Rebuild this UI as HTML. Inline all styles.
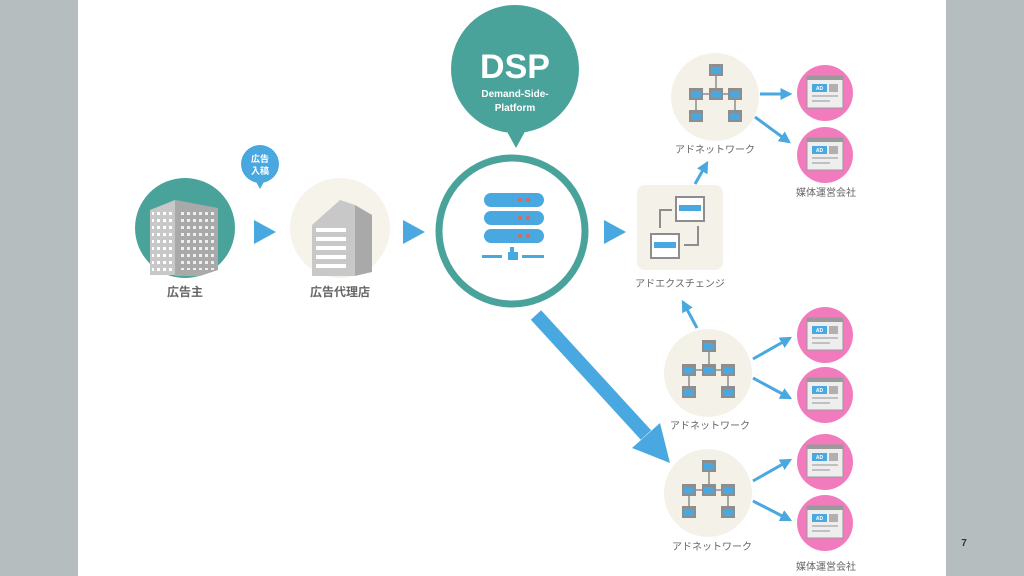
<!DOCTYPE html>
<html><head><meta charset="utf-8"><style>
html,body{margin:0;padding:0;width:1024px;height:576px;overflow:hidden;background:#b5bdbf}
svg{display:block}
text{font-family:"Liberation Sans","Noto Sans CJK JP",sans-serif}
</style></head><body>
<svg width="1024" height="576" viewBox="0 0 1024 576" xmlns="http://www.w3.org/2000/svg">
<defs>
 <g id="net">
  <circle r="44" fill="#f4f2e8"/>
  <g fill="#8d8d8d">
   <rect x="-6" y="-33" width="14" height="12"/><rect x="-6" y="-9" width="14" height="12"/>
   <rect x="-26" y="-9" width="14" height="12"/><rect x="13" y="-9" width="14" height="12"/>
   <rect x="-26" y="13" width="14" height="12"/><rect x="13" y="13" width="14" height="12"/>
  </g>
  <g fill="#4aa8e0">
   <rect x="-4" y="-30" width="10" height="7"/><rect x="-4" y="-6" width="10" height="7"/>
   <rect x="-24" y="-6" width="10" height="7"/><rect x="15" y="-6" width="10" height="7"/>
   <rect x="-24" y="16" width="10" height="7"/><rect x="15" y="16" width="10" height="7"/>
  </g>
  <g stroke="#8d8d8d" stroke-width="1.5">
   <line x1="1" y1="-21" x2="1" y2="-9"/><line x1="-12" y1="-3" x2="-6" y2="-3"/><line x1="8" y1="-3" x2="13" y2="-3"/>
   <line x1="-19" y1="3" x2="-19" y2="13"/><line x1="20" y1="3" x2="20" y2="13"/>
  </g>
 </g>
 <g id="pub">
  <circle r="28" fill="#f27bbd"/>
  <rect x="-18" y="-17" width="36" height="32" fill="#eeeeee" stroke="#9a9a9a" stroke-width="1"/>
  <rect x="-18" y="-17" width="36" height="4" fill="#9a9a9a"/>
  <rect x="-13" y="-9" width="15" height="8" fill="#4aa8e0"/>
  <text x="-5.5" y="-3" font-size="5" fill="#fff" text-anchor="middle" font-weight="bold">AD</text>
  <rect x="4" y="-9" width="9" height="8" fill="#b0b0b0"/>
  <rect x="-13" y="2" width="26" height="2" fill="#c0c0c0"/>
  <rect x="-13" y="7" width="18" height="2" fill="#c0c0c0"/>
 </g>
 <pattern id="win" width="6" height="7" patternUnits="userSpaceOnUse"><rect width="6" height="7" fill="none"/><rect x="1" y="2" width="3" height="3" fill="#fff"/></pattern>
 <pattern id="win2" width="8" height="9" patternUnits="userSpaceOnUse"><rect x="0" y="3" width="8" height="4" fill="#fff"/></pattern>
 <marker id="ah" viewBox="0 0 10 10" refX="8" refY="5" markerWidth="4" markerHeight="4" orient="auto"><path d="M0,0L10,5L0,10z" fill="#4aa8e0"/></marker>
</defs>
<rect x="78" y="0" width="868" height="576" fill="#fff"/>

<!-- advertiser -->
<circle cx="185" cy="228" r="50" fill="#4aa39a"/>
<path d="M150,210 L175,200 L200,205 L200,275 L150,275 Z" fill="#c8c8c8"/>
<path d="M175,200 L218,208 L218,270 L200,276 L175,276Z" fill="#a9a9a9"/>
<rect x="152" y="212" width="22" height="60" fill="url(#win)"/>
<rect x="178" y="212" width="38" height="58" fill="url(#win)" opacity="0.8"/>
<text x="185" y="296" font-size="12" font-weight="bold" fill="#666" text-anchor="middle">広告主</text>
<!-- bubble -->
<circle cx="260" cy="164" r="19" fill="#4aa8e0"/>
<path d="M255,180 L265,180 L260,189Z" fill="#4aa8e0"/>
<text x="260" y="162" font-size="9" font-weight="bold" fill="#fff" text-anchor="middle">広告</text>
<text x="260" y="174" font-size="9" font-weight="bold" fill="#fff" text-anchor="middle">入稿</text>
<!-- tri arrows -->
<path d="M254,220 L276,232 L254,244Z" fill="#4aa8e0"/>
<path d="M403,220 L425,232 L403,244Z" fill="#4aa8e0"/>
<path d="M604,220 L626,232 L604,244Z" fill="#4aa8e0"/>
<!-- agency -->
<circle cx="340" cy="228" r="50" fill="#f5f3ea"/>
<path d="M312,225 L340,200 L355,205 L355,276 L312,276Z" fill="#c8c8c8"/>
<path d="M355,205 L372,215 L372,272 L355,276Z" fill="#a9a9a9"/>
<rect x="316" y="228" width="30" height="44" fill="url(#win2)"/>
<text x="340" y="296" font-size="12" font-weight="bold" fill="#666" text-anchor="middle">広告代理店</text>
<!-- DSP -->
<circle cx="512" cy="231" r="73" fill="#fff" stroke="#4aa39a" stroke-width="7"/>
<g fill="#4aa8e0">
 <rect x="484" y="193" width="60" height="14" rx="7"/><rect x="484" y="211" width="60" height="14" rx="7"/><rect x="484" y="229" width="60" height="14" rx="7"/>
 <rect x="510" y="247" width="4" height="8"/><rect x="508" y="252" width="10" height="8"/>
 <rect x="482" y="255" width="20" height="3"/><rect x="522" y="255" width="22" height="3"/>
</g>
<g fill="#e8654d"><circle cx="520" cy="200" r="2"/><circle cx="528" cy="200" r="2"/><circle cx="520" cy="218" r="2"/><circle cx="528" cy="218" r="2"/><circle cx="520" cy="236" r="2"/><circle cx="528" cy="236" r="2"/></g>
<circle cx="515" cy="69" r="64" fill="#4aa39a"/>
<path d="M505,128 L527,128 L516,148Z" fill="#4aa39a"/>
<text x="515" y="78" font-size="34" font-weight="bold" fill="#fff" text-anchor="middle">DSP</text>
<text x="515" y="97" font-size="10" font-weight="bold" fill="#fff" text-anchor="middle">Demand-Side-</text>
<text x="515" y="111" font-size="10" font-weight="bold" fill="#fff" text-anchor="middle">Platform</text>
<!-- big arrow -->
<line x1="536" y1="315" x2="646" y2="435" stroke="#4aa8e0" stroke-width="14"/>
<path d="M632,448 L670,463 L660,423Z" fill="#4aa8e0"/>
<!-- ad exchange -->
<rect x="637" y="185" width="86" height="85" rx="8" fill="#f4f2e8"/>
<rect x="676" y="197" width="28" height="24" fill="#fff" stroke="#8d8d8d" stroke-width="2"/><rect x="679" y="205" width="22" height="6" fill="#4aa8e0"/>
<rect x="651" y="234" width="28" height="24" fill="#fff" stroke="#8d8d8d" stroke-width="2"/><rect x="654" y="242" width="22" height="6" fill="#4aa8e0"/>
<path d="M660,228 L660,210 L672,210" fill="none" stroke="#8d8d8d" stroke-width="2"/>
<path d="M698,226 L698,245 L684,245" fill="none" stroke="#8d8d8d" stroke-width="2"/>
<text x="680" y="287" font-size="10" fill="#666" text-anchor="middle">アドエクスチェンジ</text>
<!-- networks -->
<use href="#net" x="715" y="97"/>
<text x="715" y="153" font-size="10" fill="#666" text-anchor="middle">アドネットワーク</text>
<use href="#net" x="708" y="373"/>
<text x="710" y="429" font-size="10" fill="#666" text-anchor="middle">アドネットワーク</text>
<use href="#net" x="708" y="493"/>
<text x="712" y="550" font-size="10" fill="#666" text-anchor="middle">アドネットワーク</text>
<!-- small arrows -->
<g stroke="#4aa8e0" stroke-width="3" marker-end="url(#ah)">
 <line x1="695" y1="184" x2="707" y2="163"/>
 <line x1="697" y1="328" x2="683" y2="302"/>
 <line x1="760" y1="94" x2="790" y2="94"/>
 <line x1="755" y1="117" x2="789" y2="142"/>
 <line x1="753" y1="359" x2="790" y2="338"/>
 <line x1="753" y1="378" x2="790" y2="398"/>
 <line x1="753" y1="481" x2="790" y2="460"/>
 <line x1="753" y1="501" x2="790" y2="520"/>
</g>
<use href="#pub" x="825" y="93"/><use href="#pub" x="825" y="155"/>
<text x="826" y="196" font-size="10" fill="#666" text-anchor="middle">媒体運営会社</text>
<use href="#pub" x="825" y="335"/><use href="#pub" x="825" y="395"/>
<use href="#pub" x="825" y="462"/><use href="#pub" x="825" y="523"/>
<text x="826" y="570" font-size="10" fill="#666" text-anchor="middle">媒体運営会社</text>
<text x="964" y="546" font-size="10" font-weight="bold" fill="#333" text-anchor="middle">7</text>
</svg>
</body></html>
